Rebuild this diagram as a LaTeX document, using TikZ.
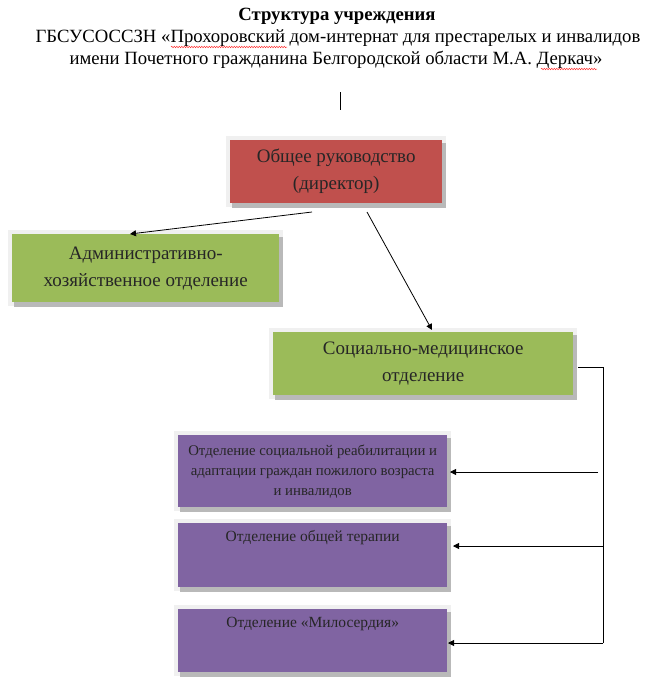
\documentclass[tikz,border=0pt]{standalone}
\usepackage{fontspec}
\setmainfont{Liberation Serif}
\usetikzlibrary{arrows.meta,decorations.pathmorphing,calc}
\definecolor{boxred}{HTML}{C0504D}
\definecolor{boxgreen}{HTML}{9BBB59}
\definecolor{boxpurple}{HTML}{8064A2}
\begin{document}
\begin{tikzpicture}[x=1pt,y=-1pt,
  box/.style={rectangle,inner sep=0pt,align=center,text=black!85},
  bigtext/.style={text=black!85,align=center,font=\fontsize{19}{27}\selectfont},
  smalltext/.style={text=black!85,align=center,font=\fontsize{15.5}{18}\selectfont},
  titletext/.style={font=\fontsize{18.7}{20}\selectfont},
  conn/.style={draw=black,line width=0.8pt},
  arr/.style={conn,-{Triangle[length=6pt,width=6pt]}},
  squig/.style={draw=red!80,line width=0.5pt,decorate,decoration={snake,amplitude=0.7pt,segment length=2.5pt}}
]
\useasboundingbox (0,0) rectangle (651,689);
\newcommand{\shbox}[6]{% name, x1, y1, x2, y2, colour
  \fill[gray!12] (#2-4,#3-4) rectangle (#4+4,#5+4);
  \fill[gray!55] (#2+2,#3+3) rectangle (#4+4,#5+5);
  \node[box,fill=#6,minimum width=#4-#2,minimum height=#5-#3,anchor=north west] (#1) at (#2,#3) {};
}
% title
\node[titletext] (t1) at (337,16) {\bfseries Структура учреждения};
\node[titletext] (t2) at (338,38) {ГБСУСОССЗН «Прохоровский дом-интернат для престарелых и инвалидов};
\node[titletext] (t3) at (336,60) {имени Почетного гражданина Белгородской области М.А. Деркач»};
\draw[squig] (171,47) -- (287,47);
\draw[squig] (541,69) -- (597,69);
\coordinate (cur1) at (340,92);
\coordinate (cur2) at (340,110);
\draw[line width=0.8pt] (cur1) -- (cur2);

% boxes
\shbox{dir}{230}{140}{442}{203}{boxred}
\node[bigtext] at (dir.center) {Общее руководство\\(директор)};

\shbox{adm}{12}{234}{279}{302}{boxgreen}
\node[bigtext] at (adm.center) {Административно-\\хозяйственное отделение};

\shbox{med}{273}{332}{573}{395}{boxgreen}
\node[bigtext] at (med.center) {Социально-медицинское\\отделение};

\shbox{reh}{178}{435}{447}{507}{boxpurple}
\node[text=black!85,align=center,font=\fontsize{14.8}{20}\selectfont] at (reh.center) {Отделение социальной реабилитации и\\адаптации граждан пожилого возраста\\и инвалидов};

\shbox{ter}{178}{523}{447}{587}{boxpurple}
\node[smalltext,anchor=north] at ($(ter.north)+(0,4)$) {Отделение общей терапии};

\shbox{mil}{178}{609}{447}{672}{boxpurple}
\node[smalltext,anchor=north] at ($(mil.north)+(0,5)$) {Отделение «Милосердия»};

% connectors
\coordinate (a1s) at (312,212);
\coordinate (a1e) at (130,234);
\draw[arr] (a1s) -- (a1e);
\coordinate (a2s) at (367,212);
\coordinate (a2e) at (432,330);
\draw[arr] (a2s) -- (a2e);

\coordinate (bus) at (603,367);
\coordinate (medr) at (578,367);
\draw[conn] (medr) -- (bus) -- (603,643);
\draw[arr] (598,472) -- (450,472);
\draw[arr] (603,546) -- (453,546);
\draw[arr] (603,643) -- (448,643);
\end{tikzpicture}
\end{document}
